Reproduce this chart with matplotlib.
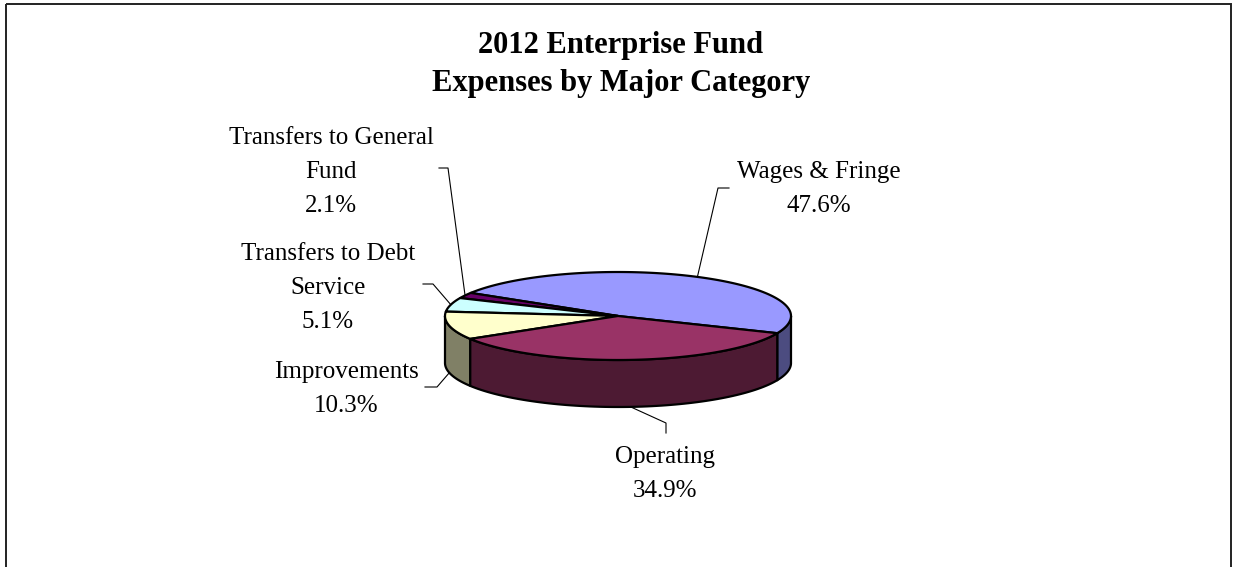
import numpy as np
import matplotlib.pyplot as plt
from matplotlib.patches import Polygon, Rectangle

# expense categories, counter-clockwise from the first slice
names = ["Wages & Fringe", "Transfers to General\nFund", "Transfers to Debt\nService",
         "Improvements", "Operating"]
shares = [47.6, 2.1, 5.1, 10.3, 34.9]

top_colors = ["#9999FF", "#660066", "#CCFFFF", "#FFFFCC", "#993366"]
side_colors = ["#4C4C80", "#330033", "#668080", "#808066", "#4D1A33"]

# pie geometry in pixels
cx, cy = 618, 316
ra, rb = 173, 44
depth = 47
start = -23.0

# label placement: (center x, first baseline), elbow, end of leader
label_pos = [(819, 178), (331, 144), (328, 260), (346, 378), (665, 463)]
elbows = [(718, 188), (448, 168), (433, 284), (437, 387), (666, 423)]
ends = [(729, 188), (439, 168), (423, 284), (425, 387), (666, 433)]

fig = plt.figure(figsize=(12.33, 5.67), dpi=100)
ax = fig.add_axes([0, 0, 1, 1])
ax.set_xlim(0, 1233)
ax.set_ylim(567, 0)
ax.axis("off")

ax.add_patch(Rectangle((6, 4), 1225, 620, fill=False, edgecolor="#222222", lw=1.4))


def pt(t, dy=0.0):
    r = np.radians(t)
    return cx + ra * np.cos(r), cy - rb * np.sin(r) + dy


bounds = start + np.concatenate([[0], np.cumsum(shares)]) * 3.6

# front walls
for i in range(len(shares)):
    t0, t1 = bounds[i], bounds[i + 1]
    for k in (-1, 0, 1):
        lo = max(t0 + 360 * k, 180)
        hi = min(t1 + 360 * k, 360)
        if hi <= lo:
            continue
        ts = np.linspace(lo, hi, 80)
        upper = [pt(t) for t in ts]
        lower = [pt(t, depth) for t in ts[::-1]]
        ax.add_patch(Polygon(upper + lower, closed=True, facecolor=side_colors[i],
                             edgecolor="black", lw=1.6, joinstyle="round"))

# top faces
for i in range(len(shares)):
    ts = np.linspace(bounds[i], bounds[i + 1], 120)
    verts = [(cx, cy)] + [pt(t) for t in ts]
    ax.add_patch(Polygon(verts, closed=True, facecolor=top_colors[i],
                         edgecolor="black", lw=1.6, joinstyle="round"))

# labels with leader lines
for i in range(len(shares)):
    mid = (bounds[i] + bounds[i + 1]) / 2
    front = np.sin(np.radians(mid)) < 0
    ax_, ay_ = pt(mid, depth if front else 0)
    ex, ey = elbows[i]
    fx, fy = ends[i]
    ax.plot([ax_, ex, fx], [ay_, ey, fy], color="black", lw=0.8)
    lines = names[i].split("\n") + [f"{shares[i]:.1f}%"]
    x0, y0 = label_pos[i]
    for j, s in enumerate(lines):
        ax.text(x0, y0 + j * 34, s, ha="center", va="baseline",
                family="Liberation Serif", fontsize=18)

ax.text(621, 53, "2012 Enterprise Fund", ha="center", va="baseline",
        family="Liberation Serif", fontsize=22, fontweight="bold")
ax.text(621, 91, "Expenses by Major Category", ha="center", va="baseline",
        family="Liberation Serif", fontsize=22, fontweight="bold")

fig.savefig("out.png", dpi=100)
